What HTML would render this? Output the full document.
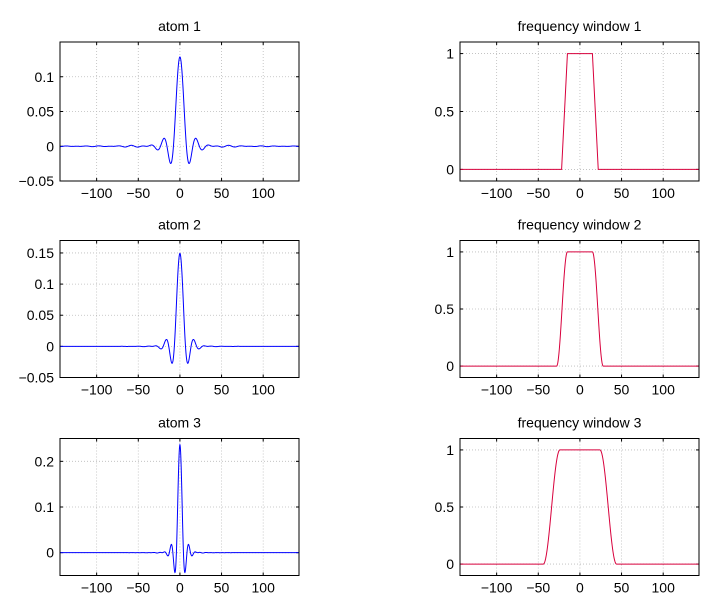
<!DOCTYPE html>
<html><head><meta charset="utf-8"><style>
html,body{margin:0;padding:0;background:#fff;}
svg text{font-family:"Liberation Sans",sans-serif;font-size:14px;fill:#000;}
</style></head><body>
<svg id="s" width="707" height="608" xmlns="http://www.w3.org/2000/svg"></svg>
<script>
const S=document.getElementById('s');let h='';
const N=288;
function trap(f){const a=Math.abs(f);if(a<=15)return 1;if(a>=22)return 0;return (22-a)/7;}
function rc(f0,f1){return f=>{const a=Math.abs(f);if(a<=f0)return 1;if(a>=f1)return 0;return 0.5+0.5*Math.cos(Math.PI*(a-f0)/(f1-f0));};}
const W=[trap,rc(15,28),rc(24,44)];
const rows=[{top:42,h:139,yl:[-0.05,0.15],yt:[-0.05,0,0.05,0.1],lab:['−0.05','0','0.05','0.1']},
{top:240.5,h:137,yl:[-0.05,0.17],yt:[-0.05,0,0.05,0.1,0.15],lab:['−0.05','0','0.05','0.1','0.15']},
{top:438.5,h:137,yl:[-0.05,0.25],yt:[0,0.1,0.2],lab:['0','0.1','0.2']}];
function axes(x0,top,hh,yl,yt,lab,title,pts,col){
 const w=239,xl=[-144,143];
 const X=v=>x0+(v-xl[0])/(xl[1]-xl[0])*w, Y=v=>top+hh-(v-yl[0])/(yl[1]-yl[0])*hh;
 h+=`<rect x="${x0}" y="${top}" width="${w}" height="${hh}" fill="#fff"/>`;
 [-100,-50,0,50,100].forEach(t=>{const x=X(t);
  h+=`<line x1="${x}" y1="${top}" x2="${x}" y2="${top+hh}" stroke="#bbb" stroke-width="0.8" stroke-dasharray="1,2"/>`;
  h+=`<line x1="${x}" y1="${top+hh}" x2="${x}" y2="${top+hh-3}" stroke="#000"/><line x1="${x}" y1="${top}" x2="${x}" y2="${top+3}" stroke="#000"/>`;
  h+=`<text x="${x}" y="${top+hh+17}" text-anchor="middle">${t<0?'−'+(-t):t}</text>`;});
 yt.forEach((t,i)=>{const y=Y(t);
  h+=`<line x1="${x0}" y1="${y}" x2="${x0+w}" y2="${y}" stroke="#bbb" stroke-width="0.8" stroke-dasharray="1,2"/>`;
  h+=`<line x1="${x0}" y1="${y}" x2="${x0+3}" y2="${y}" stroke="#000"/><line x1="${x0+w}" y1="${y}" x2="${x0+w-3}" y2="${y}" stroke="#000"/>`;
  h+=`<text x="${x0-6}" y="${y+5}" text-anchor="end">${lab[i]}</text>`;});
 let d='';pts.forEach((p,i)=>{d+=(i?'L':'M')+X(p[0]).toFixed(2)+','+Y(p[1]).toFixed(2);});
 h+=`<path d="${d}" fill="none" stroke="${col}" stroke-width="1"/>`;
 h+=`<rect x="${x0}" y="${top}" width="${w}" height="${hh}" fill="none" stroke="#000" stroke-width="1"/>`;
 h+=`<text x="${x0+w/2}" y="${top-11}" text-anchor="middle">${title}</text>`;
}
for(let r=0;r<3;r++){
 const R=rows[r],Wf=W[r];
 const ap=[];for(let t=-144;t<=143;t+=0.25){let s=0;for(let f=-144;f<144;f++){s+=Wf(f)*Math.cos(2*Math.PI*f*t/N);}ap.push([t,s/N]);}
 axes(60,R.top,R.h,R.yl,R.yt,R.lab,'atom '+(r+1),ap,'#0000ff');
 const wp=[];for(let f=-144;f<=143;f+=0.25)wp.push([f,Wf(f)]);
 axes(460,R.top,R.h,[-0.1,1.1],[0,0.5,1],['0','0.5','1'],'frequency window '+(r+1),wp,'#d8003c');
}
S.innerHTML=h;
</script>
</body></html>
